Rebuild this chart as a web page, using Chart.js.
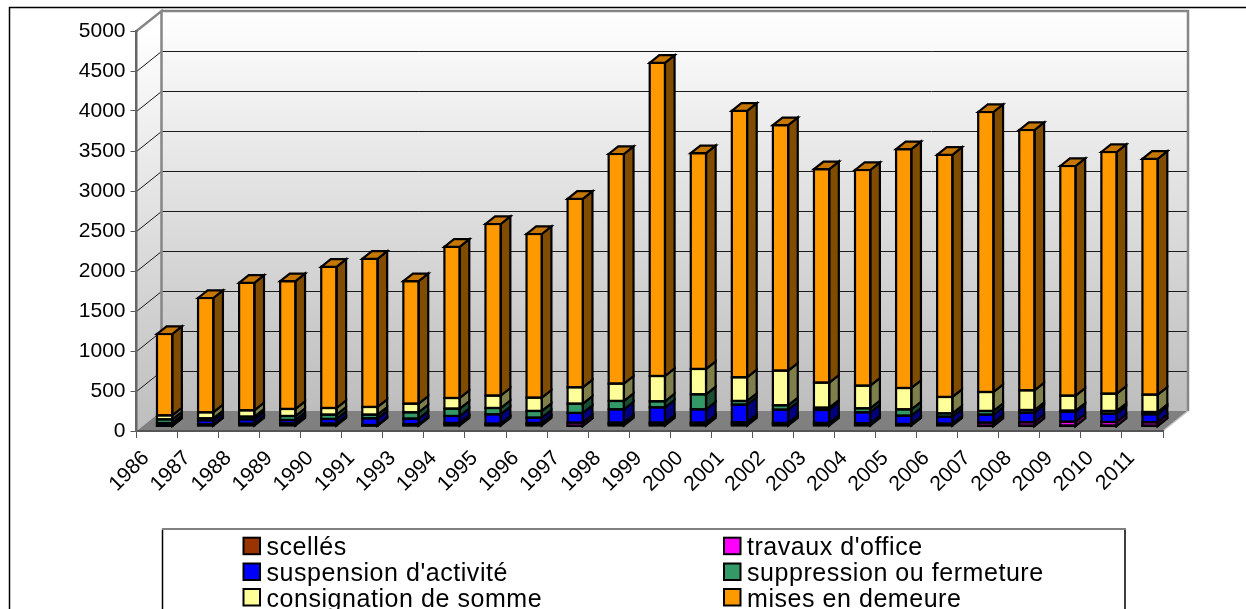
<!DOCTYPE html>
<html><head><meta charset="utf-8">
<style>html,body{margin:0;padding:0;background:#fff;overflow:hidden}canvas{display:block}</style>
<script src="https://cdn.jsdelivr.net/npm/chart.js@4"></script>
</head><body><canvas id="c" width="1246" height="609"></canvas>
<script>
const years = ["1986","1987","1988","1989","1990","1991","1993","1994","1995","1996","1997","1998","1999","2000","2001","2002","2003","2004","2005","2006","2007","2008","2009","2010","2011"];
const yTicks = [0,500,1000,1500,2000,2500,3000,3500,4000,4500,5000];
const scelles = [2,10,14,16,14,6,10,19,14,19,1,21,21,21,23,19,19,16,12,14,1,1,1,1,1];
const travaux = [2,10,15,17,15,6,11,19,15,19,41,21,21,21,23,19,19,17,13,15,41,45,53,49,45];
const suspension = [33,51,54,42,59,84,71,87,117,66,121,166,191,166,221,166,162,138,104,88,100,121,125,104,100];
const suppression = [46,25,34,50,54,46,79,92,79,84,116,105,76,188,46,55,29,50,79,41,46,33,13,34,29];
const consignation = [50,75,79,88,83,96,108,133,155,166,205,217,316,317,296,433,313,283,267,205,237,246,187,216,217];
const mises = [1017,1429,1594,1597,1765,1852,1531,1890,2145,2046,2356,2870,3915,2697,3331,3068,2668,2696,2985,3027,3500,3254,2871,3021,2948];

const FONT = '"Liberation Sans", Arial, sans-serif';
const WALL = {dx:25, dy:-20};
const BAR = {ox:7.6, oy:-5, dx:9.6, dy:-7.6};
const mk = (label,data,color,side,top) => ({label,data,backgroundColor:color,sideColor:side,topColor:top,borderWidth:0,clip:false,barPercentage:.372,categoryPercentage:1});

const decor = {
  id:'decor',
  beforeDraw(chart){
    const {ctx,chartArea:a,scales:{y}} = chart;
    const {dx,dy} = WALL;
    const L=a.left,R=a.right,B=a.bottom,T=a.top;
    ctx.save();
    ctx.fillStyle='#fff';ctx.fillRect(0,0,chart.width,chart.height);
    const g=ctx.createLinearGradient(0,T+dy,0,B+dy);
    g.addColorStop(0,'#ffffff');g.addColorStop(1,'#bdbdbd');
    ctx.fillStyle=g;ctx.fillRect(L+dx,T+dy,R-L,B-T);
    const g2=ctx.createLinearGradient(0,T,0,B);
    g2.addColorStop(0,'#ffffff');g2.addColorStop(1,'#bdbdbd');
    ctx.fillStyle=g2;
    ctx.beginPath();ctx.moveTo(L,T);ctx.lineTo(L+dx,T+dy);ctx.lineTo(L+dx,B+dy);ctx.lineTo(L,B);ctx.closePath();ctx.fill();
    ctx.fillStyle='#808080';
    ctx.beginPath();ctx.moveTo(L,B);ctx.lineTo(L+dx,B+dy);ctx.lineTo(R+dx,B+dy);ctx.lineTo(R,B);ctx.closePath();ctx.fill();
    ctx.lineWidth=1;
    yTicks.forEach(v=>{
      if(v===0||v===5000)return;
      const p=y.getPixelForValue(v)+.5;
      ctx.strokeStyle='#1a1a1a';
      ctx.beginPath();ctx.moveTo(L,p);ctx.lineTo(L+dx,p+dy);ctx.lineTo(R+dx,p+dy);ctx.stroke();
    });
    ctx.strokeStyle='#868686';ctx.lineWidth=2.5;
    ctx.beginPath();ctx.moveTo(L,T);ctx.lineTo(L+dx,T+dy);ctx.lineTo(L+dx,B+dy);ctx.stroke();
    ctx.beginPath();ctx.moveTo(L+dx,T+dy);ctx.lineTo(R+dx,T+dy);ctx.lineTo(R+dx,B+dy);ctx.stroke();
    ctx.strokeStyle='#c8c8c8';ctx.lineWidth=1.5;
    ctx.beginPath();ctx.moveTo(R,B);ctx.lineTo(R+dx,B+dy);ctx.stroke();
    ctx.restore();
  },
  beforeDatasetsDraw(chart){chart.ctx.save();chart.ctx.translate(BAR.ox,BAR.oy);},
  afterDatasetsDraw(chart){
    const ctx=chart.ctx;const {dx,dy}=BAR;
    const n=chart.data.datasets.length;
    ctx.lineWidth=2.2;ctx.strokeStyle='#000';ctx.lineJoin='miter';
    for(let d=0;d<n;d++){
      const ds=chart.data.datasets[d];
      chart.getDatasetMeta(d).data.forEach(el=>{
        const l=el.x-el.width/2,r=el.x+el.width/2,t=el.y,b=el.base;
        ctx.fillStyle=ds.sideColor;
        ctx.beginPath();ctx.moveTo(r,t);ctx.lineTo(r+dx,t+dy);ctx.lineTo(r+dx,b+dy);ctx.lineTo(r,b);ctx.closePath();ctx.fill();ctx.stroke();
        ctx.strokeRect(l,t,r-l,b-t);
        if(d===n-1){
          ctx.fillStyle=ds.topColor;
          ctx.beginPath();ctx.moveTo(l,t);ctx.lineTo(l+dx,t+dy);ctx.lineTo(r+dx,t+dy);ctx.lineTo(r,t);ctx.closePath();ctx.fill();ctx.stroke();
        }
      });
    }
    ctx.restore();
  },
  afterDraw(chart){
    const ctx=chart.ctx;
    ctx.save();
    ctx.strokeStyle='#000';ctx.lineWidth=1.5;
    ctx.beginPath();ctx.moveTo(9.5,609);ctx.lineTo(9.5,7.5);ctx.lineTo(1246,7.5);ctx.stroke();
    ctx.beginPath();ctx.moveTo(162.5,609);ctx.lineTo(162.5,529.5);ctx.moveTo(1125,529.5);ctx.lineTo(1125,609);ctx.stroke();
    ctx.strokeStyle='#808080';ctx.lineWidth=2;
    ctx.beginPath();ctx.moveTo(162,529);ctx.lineTo(1126,529);ctx.stroke();
    const cols=[243.5,724],rows=[537.7,563.5,589];
    ctx.font='25px '+FONT;ctx.letterSpacing='0.55px';ctx.textBaseline='alphabetic';ctx.textAlign='left';
    chart.data.datasets.forEach((ds,i)=>{
      const x=cols[i%2],yy=rows[Math.floor(i/2)];
      ctx.fillStyle=ds.backgroundColor;ctx.strokeStyle='#000';ctx.lineWidth=2;
      ctx.fillRect(x,yy,16.5,16.5);ctx.strokeRect(x,yy,16.5,16.5);
      ctx.fillStyle='#000';
      ctx.fillText(ds.label,x+23,yy+17.5);
    });
    ctx.restore();
  }
};

new Chart(document.getElementById('c'),{
  type:'bar',
  data:{labels:years,datasets:[
    mk('scellés',scelles,'#993300','#4c1900','#7a2900'),
    mk("travaux d'office",travaux,'#ff00ff','#7f007f','#cc00cc'),
    mk("suspension d'activité",suspension,'#0000ff','#00007f','#0000cc'),
    mk('suppression ou fermeture',suppression,'#339966','#1a4d33','#297a52'),
    mk('consignation de somme',consignation,'#ffff99','#7f7f4c','#cccc7a'),
    mk('mises en demeure',mises,'#ff9900','#7f4c00','#c77700')
  ]},
  options:{
    responsive:false,animation:false,
    layout:{padding:{left:0,top:31,right:83,bottom:0}},
    plugins:{legend:{display:false},tooltip:{enabled:false},title:{display:false}},
    scales:{
      x:{stacked:true,offset:true,
        grid:{drawOnChartArea:false,drawTicks:true,tickLength:7,tickColor:'#555',tickWidth:1,offset:true},
        border:{display:true,color:'#555',width:2},
        ticks:{color:'#000',font:{family:FONT,size:21},maxRotation:45,minRotation:45,autoSkip:false,labelOffset:-11,padding:8},
        afterFit(s){s.height=178;}
      },
      y:{stacked:true,min:0,max:5000,
        afterBuildTicks(s){s.ticks=yTicks.map(v=>({value:v}));},
        grid:{drawOnChartArea:false,drawTicks:true,tickLength:6,tickColor:'#555',tickWidth:1},
        border:{display:true,color:'#666',width:2.5},
        ticks:{color:'#000',font:{family:FONT,size:21},padding:5,callback:v=>String(v)},
        afterFit(s){s.width=136.5;}
      }
    }
  },
  plugins:[decor]
});
</script></body></html>
